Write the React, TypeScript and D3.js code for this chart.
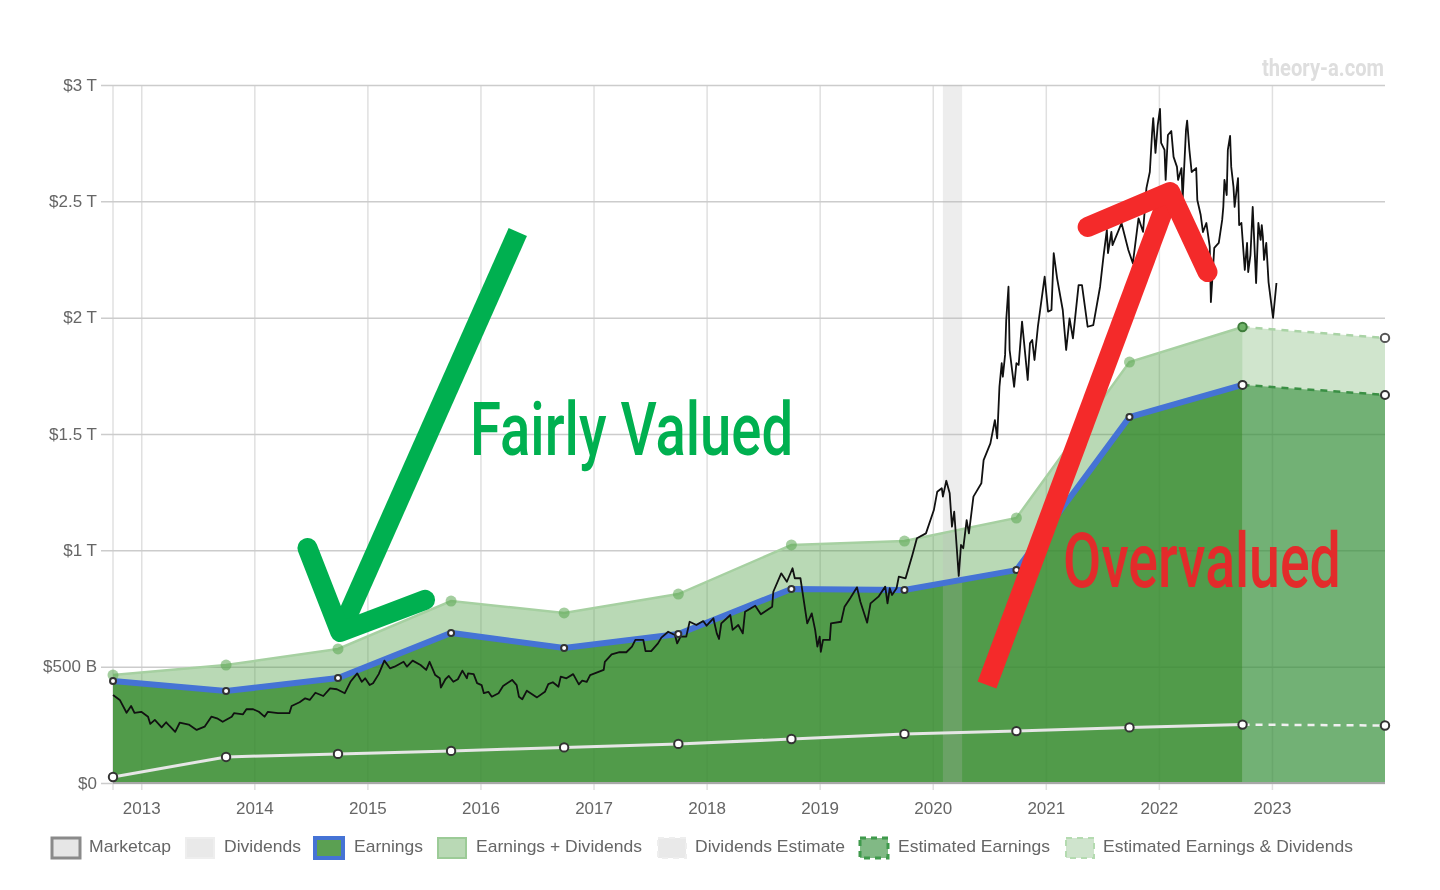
import * as d3 from "d3";
import { useEffect, useRef } from "react";

// fiscal year ends, last one is the estimate ($B)
const fiscalYears = [2012.75, 2013.75, 2014.74, 2015.74, 2016.74, 2017.75, 2018.75, 2019.75, 2020.74, 2021.74, 2022.74, 2024];
const earningsPlusDividends = [464, 507, 576, 782, 731, 812, 1023, 1040, 1139, 1809, 1960, 1913];
const earnings = [438, 395, 451, 645, 580, 640, 834, 830, 915, 1573, 1711, 1668];
const dividends = [26, 112, 125, 138, 153, 168, 189, 211, 223, 239, 251, 247];

const marketcapYears = [
  2012.75, 2012.81, 2012.87, 2012.91, 2012.94, 2013.0, 2013.06, 2013.08, 2013.12, 2013.18, 2013.22, 2013.25, 2013.3, 2013.34, 2013.42, 2013.49,
  2013.56, 2013.62, 2013.67, 2013.72, 2013.8, 2013.82, 2013.9, 2013.93, 2013.99, 2014.04, 2014.09, 2014.12, 2014.21, 2014.31, 2014.33, 2014.4,
  2014.45, 2014.49, 2014.54, 2014.61, 2014.67, 2014.73, 2014.8, 2014.85, 2014.91, 2014.95, 2014.98, 2015.02, 2015.05, 2015.1, 2015.15, 2015.2,
  2015.24, 2015.32, 2015.35, 2015.4, 2015.47, 2015.52, 2015.55, 2015.6, 2015.64, 2015.65, 2015.69, 2015.72, 2015.76, 2015.8, 2015.84, 2015.88,
  2015.89, 2015.94, 2015.97, 2016.01, 2016.03, 2016.07, 2016.1, 2016.16, 2016.2, 2016.28, 2016.32, 2016.34, 2016.37, 2016.41, 2016.5, 2016.57,
  2016.6, 2016.64, 2016.69, 2016.71, 2016.76, 2016.82, 2016.87, 2016.9, 2016.94, 2016.97, 2017.09, 2017.1, 2017.16, 2017.23, 2017.29, 2017.34,
  2017.37, 2017.44, 2017.46, 2017.51, 2017.57, 2017.6, 2017.66, 2017.72, 2017.74, 2017.77, 2017.82, 2017.85, 2017.91, 2017.97, 2018.0, 2018.06,
  2018.09, 2018.11, 2018.13, 2018.21, 2018.23, 2018.28, 2018.32, 2018.34, 2018.43, 2018.48, 2018.58, 2018.59, 2018.66, 2018.71, 2018.76, 2018.78,
  2018.83, 2018.85, 2018.89, 2018.93, 2018.96, 2018.98, 2019.0, 2019.01, 2019.03, 2019.09, 2019.1, 2019.19, 2019.22, 2019.27, 2019.33, 2019.36,
  2019.42, 2019.45, 2019.52, 2019.58, 2019.6, 2019.62, 2019.64, 2019.68, 2019.7, 2019.76, 2019.82, 2019.86, 2019.94, 2020.01, 2020.04, 2020.08,
  2020.09, 2020.12, 2020.15, 2020.17, 2020.19, 2020.23, 2020.25, 2020.27, 2020.3, 2020.32, 2020.36, 2020.43, 2020.45, 2020.51, 2020.55, 2020.57,
  2020.59, 2020.61, 2020.62, 2020.64, 2020.65, 2020.67, 2020.68, 2020.72, 2020.74, 2020.76, 2020.79, 2020.84, 2020.86, 2020.88, 2020.9, 2020.93,
  2020.99, 2021.02, 2021.05, 2021.07, 2021.1, 2021.15, 2021.18, 2021.21, 2021.24, 2021.29, 2021.32, 2021.37, 2021.42, 2021.48, 2021.51, 2021.54,
  2021.55, 2021.58, 2021.59, 2021.67, 2021.73, 2021.77, 2021.82, 2021.86, 2021.89, 2021.92, 2021.94, 2021.95, 2021.97, 2021.99, 2022.01, 2022.02,
  2022.05, 2022.06, 2022.08, 2022.11, 2022.13, 2022.16, 2022.17, 2022.2, 2022.21, 2022.24, 2022.25, 2022.27, 2022.29, 2022.33, 2022.34, 2022.37,
  2022.39, 2022.42, 2022.45, 2022.46, 2022.49, 2022.53, 2022.56, 2022.57, 2022.58, 2022.6, 2022.61, 2022.63, 2022.64, 2022.66, 2022.67, 2022.7,
  2022.71, 2022.73, 2022.76, 2022.78, 2022.79, 2022.81, 2022.83, 2022.86, 2022.88, 2022.9, 2022.91, 2022.92, 2022.93, 2022.95, 2022.97, 2023.01,
  2023.04,
];
const marketcap = [
  378, 357, 302, 331, 301, 306, 285, 254, 271, 239, 261, 245, 220, 259, 251, 228,
  242, 285, 278, 263, 285, 300, 295, 317, 317, 306, 285, 306, 300, 300, 331, 347,
  364, 357, 388, 374, 407, 403, 386, 435, 471, 435, 450, 421, 429, 468, 526, 493,
  500, 521, 500, 526, 507, 486, 521, 464, 450, 410, 446, 460, 435, 446, 483, 450,
  471, 468, 429, 421, 386, 392, 371, 386, 417, 443, 421, 371, 360, 397, 368, 392,
  425, 433, 414, 457, 450, 468, 424, 440, 435, 464, 486, 521, 553, 562, 562, 586,
  615, 615, 567, 567, 600, 625, 650, 636, 600, 629, 629, 693, 679, 696, 676, 708,
  643, 619, 686, 722, 658, 679, 643, 736, 762, 725, 758, 822, 901, 865, 923, 880,
  880, 815, 686, 729, 658, 586, 629, 564, 615, 615, 686, 693, 758, 794, 841, 779,
  689, 772, 801, 844, 772, 837, 808, 837, 887, 880, 980, 1052, 1073, 1173, 1252, 1267,
  1231, 1299, 1245, 1102, 1166, 890, 1023, 1009, 1130, 1073, 1231, 1288, 1388, 1460, 1560, 1481,
  1703, 1804, 1746, 1840, 1990, 2133, 1861, 1703, 1804, 1797, 1983, 1732, 1890, 1904, 1818, 1961,
  2176, 2026, 2033, 2277, 2169, 2033, 1861, 1997, 1911, 2140, 2140, 1961, 1968, 2133, 2262, 2377,
  2278, 2369, 2312, 2406, 2291, 2234, 2427, 2369, 2557, 2626, 2794, 2858, 2708, 2828, 2897, 2751,
  2721, 2592, 2785, 2802, 2691, 2648, 2592, 2643, 2506, 2807, 2847, 2721, 2626, 2643, 2506, 2441,
  2368, 2407, 2305, 2067, 2300, 2321, 2420, 2476, 2592, 2527, 2721, 2781, 2648, 2562, 2476, 2600,
  2398, 2407, 2205, 2321, 2196, 2269, 2476, 2149, 2407, 2334, 2398, 2347, 2248, 2321, 2153, 1999,
  2149,
];

const yearTicks = [2013, 2014, 2015, 2016, 2017, 2018, 2019, 2020, 2021, 2022, 2023];
const valueTicks = [0, 500, 1000, 1500, 2000, 2500, 3000];
const valueLabels = ["$0", "$500 B", "$1 T", "$1.5 T", "$2 T", "$2.5 T", "$3 T"];
const crashBand = [2020.09, 2020.26];

// hand drawn arrows, [year, $B]
const greenShaft = [[2016.33, 2368], [2014.76, 649]];
const greenHead = [[2014.47, 1010], [2014.76, 649], [2015.51, 787]];
const redShaft = [[2020.48, 421], [2022.1, 2540]];
const redHead = [[2021.37, 2390], [2022.1, 2540], [2022.43, 2196]];

const legendLabels = ["Marketcap", "Dividends", "Earnings", "Earnings + Dividends", "Dividends Estimate", "Estimated Earnings", "Estimated Earnings & Dividends"];
const legendBoxX = [52, 186, 315, 438, 658, 860, 1066];
const legendTextX = [89, 224, 354, 476, 695, 898, 1103];
const legendTextW = [82, 77, 69, 166, 150, 152, 250];
const legendFill = ["#e6e6e6", "#e9e9e9", "#5ba052", "#b9d9b5", "#e9e9e9", "#81b985", "#cfe4cd"];
const legendStroke = ["#8a8a8a", "#eeeeee", "#4573d5", "#9ccb97", "#eeeeee", "#3f9a4c", "#b4dbb0"];
const legendStrokeW = [3, 2, 4, 2, 2, 3, 2];
const legendDash = ["", "", "", "", "6 5", "6 5", "6 5"];

const width = 1440;
const height = 890;
const marginTop = 85;
const marginRight = 55;
const marginBottom = 107;
const marginLeft = 113;
const font = "'Liberation Sans', Arial, sans-serif";

export default function App() {
  const axisx: any = useRef();
  const axisy: any = useRef();

  const x: any = d3.scaleLinear([2012.75, 2024], [marginLeft, width - marginRight]);
  const y: any = d3.scaleLinear([0, 3000], [height - marginBottom, marginTop]);

  const points = (vals: number[]) => fiscalYears.map((t, i) => [t, vals[i]]);
  const line: any = d3.line().x((d: any) => x(d[0])).y((d: any) => y(d[1]));
  const area: any = d3.area().x((d: any) => x(d[0])).y0(y(0)).y1((d: any) => y(d[1]));

  const actual = (vals: number[]) => points(vals).slice(0, 11);
  const estimate = (vals: number[]) => points(vals).slice(10);
  const marketLine = marketcapYears.map((t, i) => [t, marketcap[i]]);

  useEffect(() => {
    void d3.select(axisx.current)
      .call(d3.axisBottom(x).tickValues(yearTicks).tickFormat(d3.format("d")).tickSize(7) as any)
      .call((g: any) => g.select(".domain").remove())
      .call((g: any) => g.selectAll(".tick line")
        .attr("stroke", "#e0e0e0").attr("stroke-width", 1.5)
        .attr("y1", -(height - marginBottom - marginTop)))
      .call((g: any) => g.selectAll("text")
        .attr("y", 31).attr("dy", null)
        .attr("font-size", 17).attr("font-family", font).attr("fill", "#666"));
    void d3.select(axisy.current)
      .call(d3.axisLeft(y).tickValues(valueTicks).tickFormat((_: any, i: number) => valueLabels[i]).tickSize(12) as any)
      .call((g: any) => g.select(".domain").remove())
      .call((g: any) => g.selectAll(".tick line")
        .attr("stroke", "#cccccc").attr("stroke-width", 1.5)
        .attr("x2", width - marginRight - marginLeft).attr("x1", -12))
      .call((g: any) => g.selectAll("text")
        .attr("x", -16).attr("y", 5).attr("dy", null)
        .attr("font-size", 17).attr("font-family", font).attr("fill", "#666"));
  }, []);

  return (
    <svg width={width} height={height} style={{ position: "absolute", left: 0, top: 0, background: "#fff" }}>
      <g style={{ filter: "blur(0.5px)" }}>
        <text
          x={1384} y={76} textAnchor="end" fontFamily="Roboto" fontWeight="700" fontSize={24}
          textLength={122} lengthAdjust="spacingAndGlyphs" fill="#dedede">
          theory-a.com
        </text>

        <line x1={marginLeft} x2={marginLeft} y1={marginTop} y2={y(0) + 7} stroke="#e0e0e0" strokeWidth={1.5} />
        <g ref={axisx} transform={`translate(0, ${height - marginBottom})`} />
        <g ref={axisy} transform={`translate(${marginLeft}, 0)`} />

        <path fill="rgba(80,160,70,0.4)" d={area(actual(earningsPlusDividends))} />
        <path fill="rgba(80,160,70,0.27)" d={area(estimate(earningsPlusDividends))} />
        <path fill="rgba(55,139,47,0.8)" d={area(actual(earnings))} />
        <path fill="rgba(52,141,58,0.6)" d={area(estimate(earnings))} />

        <rect
          x={x(crashBand[0])} width={x(crashBand[1]) - x(crashBand[0])}
          y={marginTop} height={y(0) - marginTop} fill="rgba(183,183,183,0.25)" />

        <line x1={marginLeft} x2={width - marginRight} y1={y(0)} y2={y(0)} stroke="#a8a8a8" strokeWidth={2} />

        <path fill="none" stroke="#a6d0a1" strokeWidth={2.5} d={line(actual(earningsPlusDividends))} />
        <path fill="none" stroke="#a9d3a5" strokeWidth={2.5} strokeDasharray="7 6" d={line(estimate(earningsPlusDividends))} />
        <path fill="none" stroke="#4573d5" strokeWidth={6} d={line(actual(earnings))} />
        <path fill="none" stroke="#3a8f44" strokeWidth={2.5} strokeDasharray="7 6" d={line(estimate(earnings))} />
        <path fill="none" stroke="#e6e6e6" strokeWidth={3} d={line(actual(dividends))} />
        <path fill="none" stroke="#f0f0f0" strokeWidth={2.5} strokeDasharray="7 6" d={line(estimate(dividends))} />

        <path fill="none" stroke="#111" strokeWidth={1.8} strokeLinejoin="round" d={line(marketLine)} />

        {points(earningsPlusDividends).map((d, i) => (
          i === 11
            ? <circle key={i} cx={x(d[0])} cy={y(d[1])} r={4.2} fill="#fff" stroke="#555" strokeWidth={2} />
            : <circle key={i} cx={x(d[0])} cy={y(d[1])} r={i === 10 ? 4.2 : 5.5}
                fill={i === 10 ? "#6fb368" : "rgba(90,165,80,0.55)"}
                stroke={i === 10 ? "#3f7d3c" : "none"} strokeWidth={2} />
        ))}
        {points(earnings).map((d, i) => (
          <circle key={i} cx={x(d[0])} cy={y(d[1])} r={i >= 10 ? 4 : 3} fill="#fff" stroke="#333" strokeWidth={2} />
        ))}
        {points(dividends).map((d, i) => (
          <circle key={i} cx={x(d[0])} cy={y(d[1])} r={4.2} fill="#fff" stroke="#333" strokeWidth={2} />
        ))}

        {legendLabels.map((label, i) => (
          <g key={label}>
            <rect
              x={legendBoxX[i]} y={838} width={28} height={20} fill={legendFill[i]}
              stroke={legendStroke[i]} strokeWidth={legendStrokeW[i]} strokeDasharray={legendDash[i]} />
            <text
              x={legendTextX[i]} y={852} fontFamily={font} fontSize={17} fill="#666"
              textLength={legendTextW[i]} lengthAdjust="spacingAndGlyphs">
              {label}
            </text>
          </g>
        ))}
      </g>

      <path fill="none" stroke="#00b050" strokeWidth={20} d={line(greenShaft)} />
      <path fill="none" stroke="#00b050" strokeWidth={20} strokeLinecap="round" strokeLinejoin="round" d={line(greenHead)} />
      <text
        transform="translate(470,455) scale(0.764,1)" fontFamily="Roboto" fontWeight="500" fontSize={74} fill="#00b050"
        textLength={423} lengthAdjust="spacingAndGlyphs">
        Fairly Valued
      </text>

      <path fill="none" stroke="#f42a2a" strokeWidth={20} d={line(redShaft)} />
      <path fill="none" stroke="#f42a2a" strokeWidth={20} strokeLinecap="round" strokeLinejoin="round" d={line(redHead)} />
      <text
        transform="translate(1063,587) scale(0.735,1)" fontFamily="Roboto" fontWeight="500" fontSize={76} fill="#e32b2b"
        textLength={378} lengthAdjust="spacingAndGlyphs">
        Overvalued
      </text>
    </svg>
  );
}
